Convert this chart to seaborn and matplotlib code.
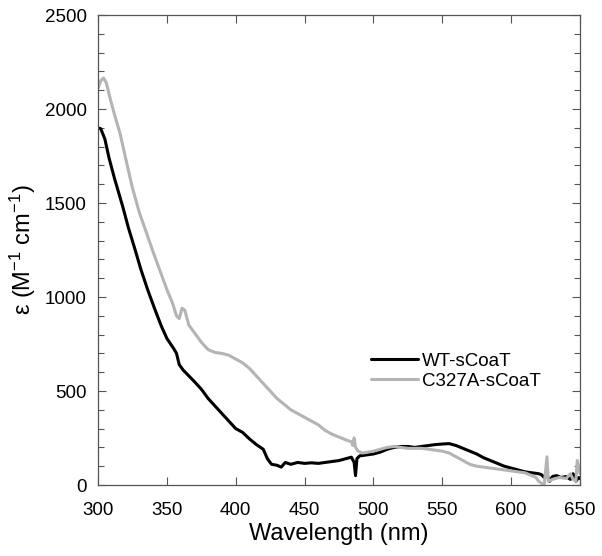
import pandas as pd
import numpy as np
import matplotlib
matplotlib.use("Agg")
import matplotlib.pyplot as plt
import seaborn as sns
from matplotlib.ticker import MultipleLocator

# WT-sCoaT spectrum
wt_nm = [300, 302, 305, 308, 312, 318, 322, 327, 331, 336, 341, 346, 350, 355, 357, 359,
         362, 366, 370, 375, 380, 385, 390, 395, 400, 405, 410, 415, 420, 423, 426, 430,
         433, 436, 440, 445, 450, 455, 460, 465, 470, 475, 480, 484, 486, 487, 488, 490,
         495, 500, 505, 510, 515, 520, 525, 530, 535, 540, 545, 550, 555, 560, 565, 570,
         575, 580, 585, 590, 595, 600, 605, 610, 615, 620, 622, 624, 626, 628, 630, 633,
         636, 640, 643, 645, 647, 649, 650]
wt_eps = [1900, 1895, 1840, 1740, 1630, 1480, 1370, 1250, 1150, 1040, 940, 845, 780, 725, 700, 640,
          610, 580, 550, 510, 460, 420, 380, 340, 300, 280, 245, 215, 190, 140, 110, 105,
          95, 120, 110, 120, 115, 118, 115, 120, 125, 130, 140, 148, 120, 50, 140, 155,
          160, 165, 175, 190, 200, 205, 205, 200, 205, 210, 215, 218, 220, 210, 195, 180,
          165, 145, 130, 115, 100, 90, 80, 70, 65, 60, 55, 40, 55, 20, 45, 50,
          40, 45, 30, 60, 20, 40, 35]

# C327A-sCoaT spectrum
mut_nm = [300, 302, 304, 306, 309, 312, 316, 320, 325, 330, 335, 340, 345, 350, 354, 357,
          359, 361, 363, 366, 370, 375, 380, 385, 390, 395, 400, 405, 410, 415, 420, 425,
          430, 435, 440, 445, 450, 455, 460, 465, 470, 475, 480, 484, 485, 486, 487, 489,
          492, 496, 500, 505, 510, 515, 520, 525, 530, 535, 540, 545, 550, 555, 560, 565,
          570, 575, 580, 585, 590, 595, 600, 605, 610, 615, 618, 620, 622, 624, 626, 627,
          630, 635, 640, 643, 645, 647, 648, 650]
mut_eps = [2110, 2150, 2165, 2140, 2050, 1970, 1870, 1740, 1580, 1450, 1345, 1240, 1140, 1040, 970, 900,
           885, 940, 930, 850, 810, 760, 720, 705, 700, 690, 670, 650, 620, 580, 540, 500,
           460, 430, 400, 380, 360, 340, 320, 290, 270, 255, 240, 230, 210, 250, 200, 180,
           170, 175, 180, 190, 200, 205, 200, 195, 195, 195, 190, 185, 180, 170, 150, 130,
           110, 100, 95, 90, 85, 80, 75, 70, 65, 50, 40, 20, 10, 0, 150, 20,
           30, 40, 35, 60, 30, 20, 130, 60]

labels = ["WT-sCoaT", "C327A-sCoaT"]

df = pd.concat([
    pd.DataFrame({"nm": wt_nm, "eps": wt_eps, "sample": labels[0]}),
    pd.DataFrame({"nm": mut_nm, "eps": mut_eps, "sample": labels[1]}),
], ignore_index=True)

sns.set_theme(style="ticks")
plt.rcParams["font.family"] = ["Liberation Sans", "DejaVu Sans"]
plt.rcParams["mathtext.fontset"] = "custom"
plt.rcParams["mathtext.rm"] = "Liberation Sans"
plt.rcParams["mathtext.default"] = "regular"
plt.rcParams["text.color"] = "black"
plt.rcParams["axes.labelcolor"] = "black"
plt.rcParams["xtick.labelcolor"] = "black"
plt.rcParams["ytick.labelcolor"] = "black"

fig = plt.figure(figsize=(6.02, 5.56), dpi=100)
ax = fig.add_axes([98 / 602, 71 / 556, 482 / 602, 470 / 556])

sns.lineplot(data=df, x="nm", y="eps", hue="sample", palette=["black", "#b4b4b4"],
             estimator=None, sort=False, linewidth=2.2, ax=ax)

ax.set_xlim(300, 650)
ax.set_ylim(0, 2500)
ax.xaxis.set_major_locator(MultipleLocator(50))
ax.yaxis.set_major_locator(MultipleLocator(500))
ax.yaxis.set_minor_locator(MultipleLocator(100))
ax.tick_params(axis="both", which="both", direction="in", top=True, right=True,
               color="#555555", labelsize=13.5, width=0.8)
ax.tick_params(which="major", length=6)
ax.tick_params(which="minor", length=4)
ax.tick_params(axis="x", pad=12)
ax.tick_params(axis="y", pad=8)
for s in ax.spines.values():
    s.set_color("#555555")
    s.set_linewidth(0.9)

ax.set_xlabel("Wavelength (nm)", fontsize=17, labelpad=3)
ax.set_ylabel(r"ε (M$^{-1}$ cm$^{-1}$)", fontsize=17, labelpad=5)

ax.legend(loc="upper left", bbox_to_anchor=(0.567, 0.282), frameon=False, fontsize=13.5,
          handlelength=2.5, handletextpad=0.2, labelspacing=0.16, borderpad=0,
          borderaxespad=0)

fig.savefig("out.png", dpi=100)
